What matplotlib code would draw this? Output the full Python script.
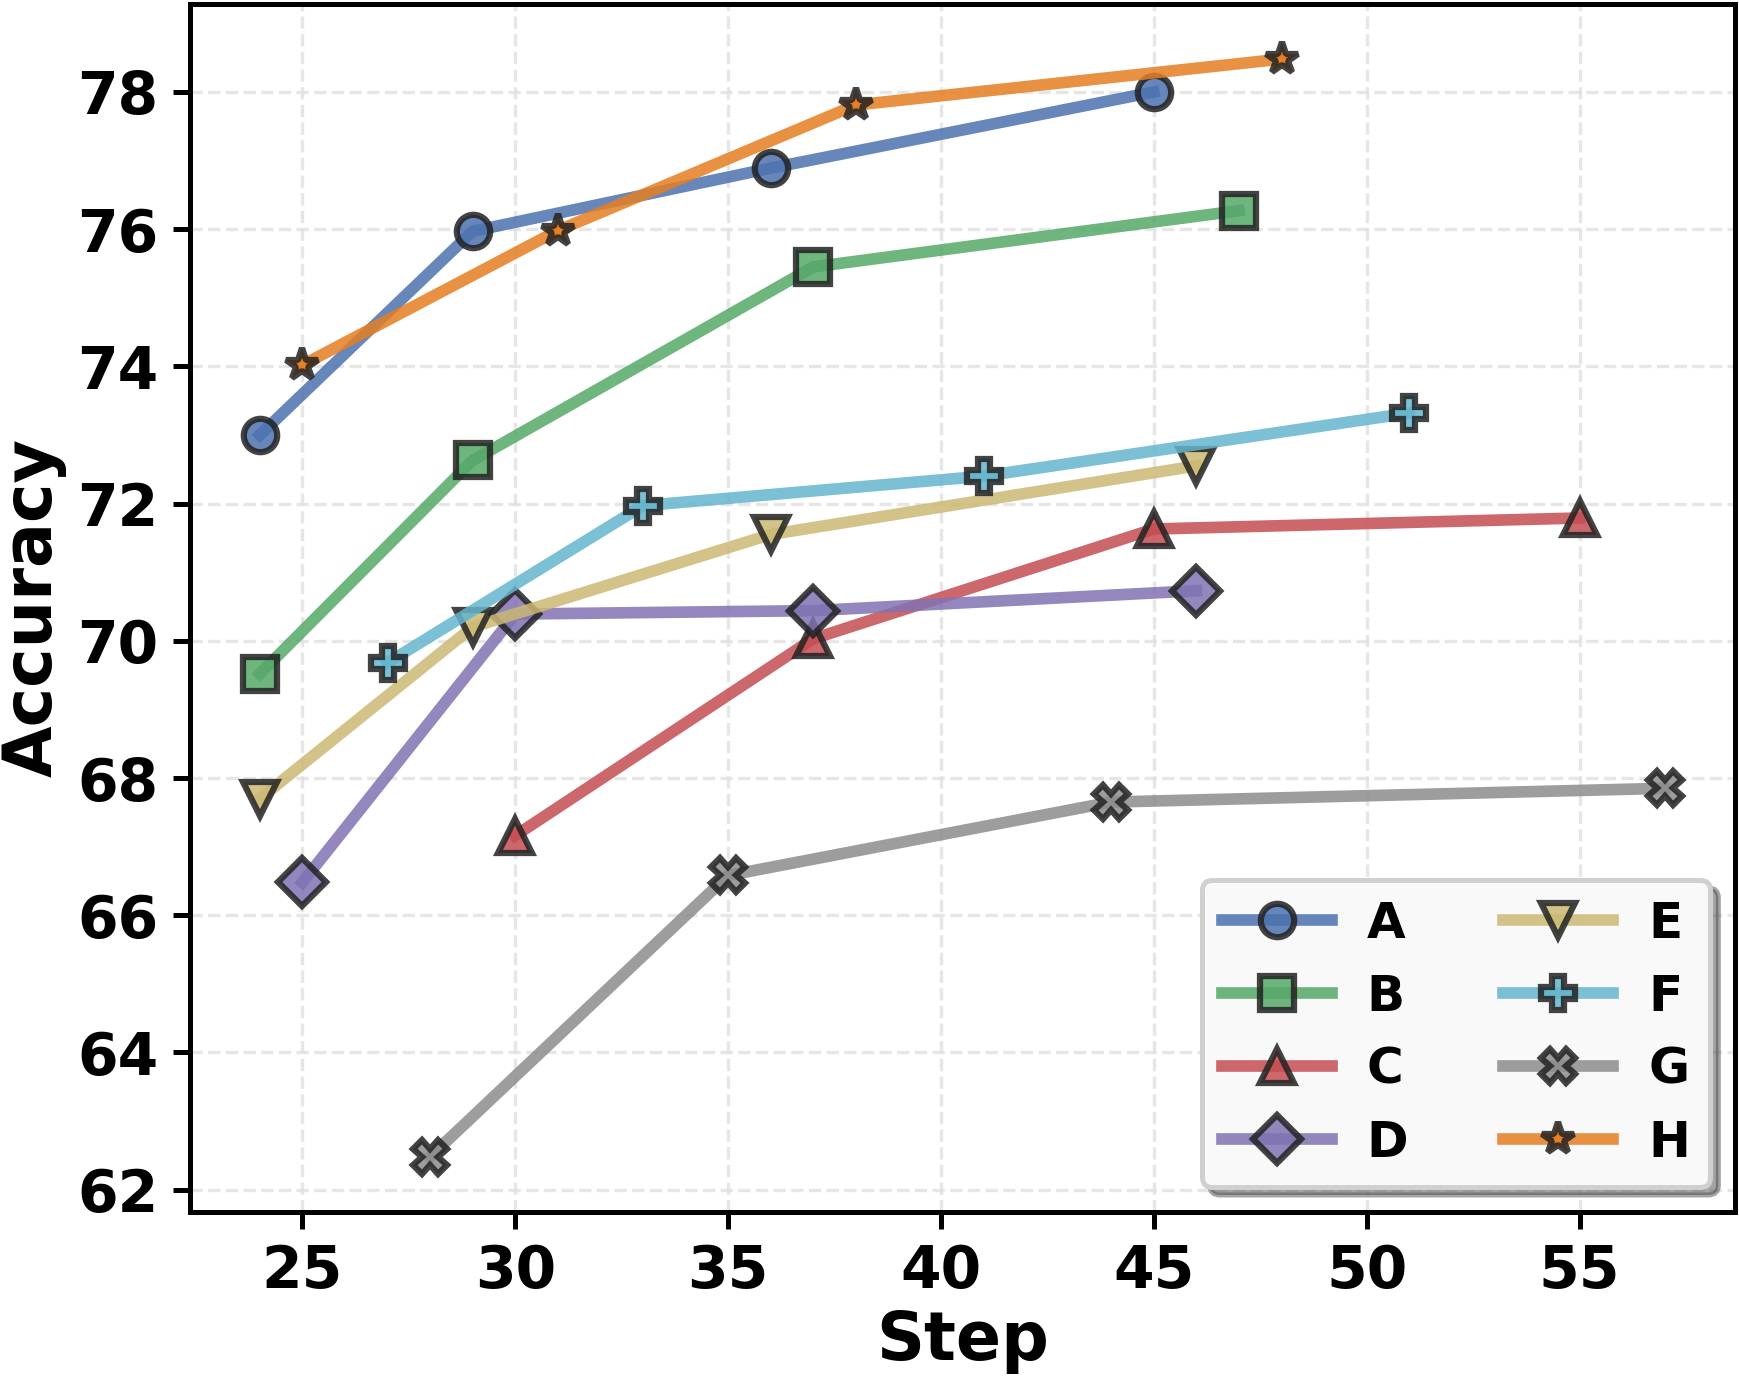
import matplotlib
matplotlib.use('Agg')
from matplotlib import pyplot as plt

plt.rcParams['font.family'] = ['DejaVu Sans']
plt.rcParams['font.weight'] = 'bold'

labels = ['A', 'B', 'C', 'D', 'E', 'F', 'G', 'H']

steps_a = [24, 29, 36, 45]
acc_a = [73.0, 75.97, 76.89, 78.0]
steps_b = [24, 29, 37, 47]
acc_b = [69.52, 72.63, 75.45, 76.27]
steps_c = [30, 37, 45, 55]
acc_c = [67.16, 70.03, 71.63, 71.79]
steps_d = [25, 30, 37, 46]
acc_d = [66.48, 70.39, 70.44, 70.73]
steps_e = [24, 29, 36, 46]
acc_e = [67.7, 70.2, 71.55, 72.55]
steps_f = [27, 33, 41, 51]
acc_f = [69.68, 71.97, 72.4, 73.32]
steps_g = [28, 35, 44, 57]
acc_g = [62.48, 66.58, 67.65, 67.85]
steps_h = [25, 31, 38, 48]
acc_h = [74.02, 75.98, 77.81, 78.48]

colors = ['#4c72b0', '#55a868', '#c44e52', '#8172b2',
          '#ccb974', '#64b5cd', '#8c8c8c', '#e67e22']
markers = ['o', 's', '^', 'D', 'v', 'P', 'X', '*']

series = [(steps_a, acc_a), (steps_b, acc_b), (steps_c, acc_c), (steps_d, acc_d),
          (steps_e, acc_e), (steps_f, acc_f), (steps_g, acc_g), (steps_h, acc_h)]

fig, ax = plt.subplots(figsize=(1739 / 300, 1380 / 300), dpi=300)
fig.subplots_adjust(left=0.109, right=0.9977, top=0.997, bottom=0.122)

for (x, y), lab, c, m in zip(series, labels, colors, markers):
    ax.plot(x, y, label=lab, color=c, marker=m, linewidth=2.8, markersize=8,
            markeredgecolor='#222222', markeredgewidth=1.5, alpha=0.85)

ax.set_yticks([62, 64, 66, 68, 70, 72, 74, 76, 78])
ax.set_xticks([25, 30, 35, 40, 45, 50, 55])
ax.tick_params(labelsize=14, width=1.2, length=4)
for lbl in ax.get_xticklabels() + ax.get_yticklabels():
    lbl.set_fontweight('bold')
ax.grid(True, linestyle='--', color='#e0e0e0', linewidth=0.8, alpha=0.8)
for s in ax.spines.values():
    s.set_linewidth(1.2)
    s.set_color('black')

ax.set_xlabel('Step', fontsize=16, fontweight='bold', labelpad=2)
ax.set_ylabel('Accuracy', fontsize=16, fontweight='bold', labelpad=2.5)

leg = ax.legend(loc='lower right', ncol=2, fontsize=12, frameon=True, fancybox=True,
                shadow=True, framealpha=1.0, facecolor='#f9f9f9', edgecolor='#d0d0d0',
                columnspacing=1.9, handlelength=2.2, borderpad=0.4,
                labelspacing=0.5, handletextpad=0.7)
leg.get_frame().set_linewidth(1.2)
for t in leg.get_texts():
    t.set_fontweight('bold')

fig.savefig('out.png', dpi=300)
